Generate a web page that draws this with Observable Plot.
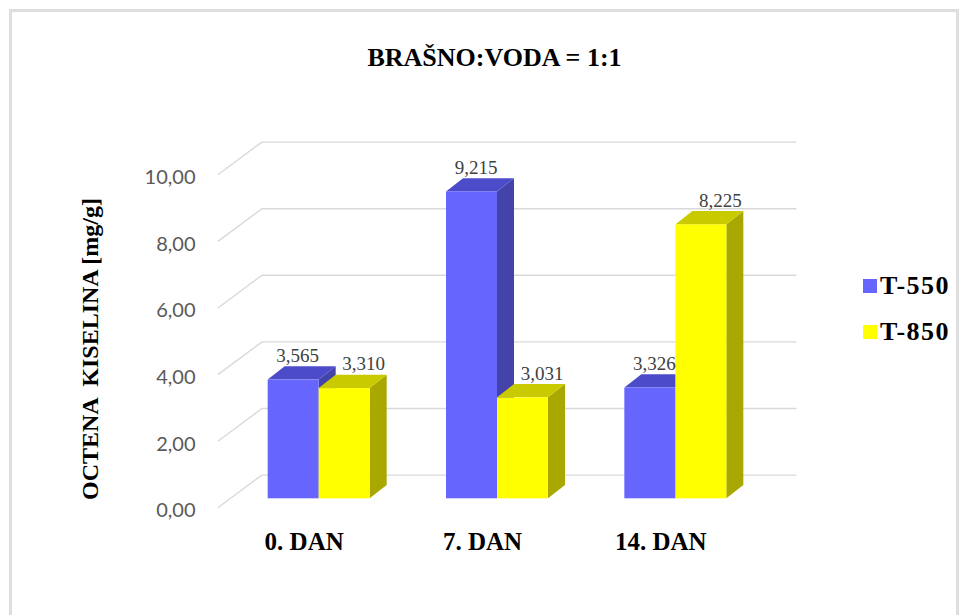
<!DOCTYPE html>
<html>
<head>
<meta charset="utf-8">
<script src="https://cdn.jsdelivr.net/npm/d3@7"></script>
<script src="https://cdn.jsdelivr.net/npm/@observablehq/plot@0.6"></script>
<style>
  body { margin: 0; background: #fff; }
  #wrap { position: relative; width: 962px; height: 615px; overflow: hidden; background: #fff; }
  #frame { position: absolute; left: 9px; top: 9px; width: 950px; height: 640px; border: 3px solid #dedede; box-sizing: border-box; }
  #chart { position: absolute; left: 0; top: 0; }
  .serifb { font-family: "Liberation Serif", "Times New Roman", serif; font-weight: bold; color: #000; white-space: pre; }
  #title { position: absolute; left: 0; width: 989px; top: 45px; text-align: center; font-size: 26px; line-height: 26px; }
  #ytitle { position: absolute; left: 90px; top: 349px; font-size: 24px; line-height: 24px; transform: translate(-50%, -50%) rotate(-90deg); }
  .leg { position: absolute; left: 863px; display: flex; align-items: center; }
  .leg .sw { width: 14px; height: 14px; margin-right: 3px; }
  .leg .tx { font-size: 26px; line-height: 26px; letter-spacing: 1.5px; }
</style>
</head>
<body>
<div id="wrap">
  <div id="frame"></div>
  <div id="chart"></div>
  <div id="title" class="serifb"></div>
  <div id="ytitle" class="serifb"></div>
  <div id="legend"></div>
</div>
<script>
// ---- data ----
const titleText = "BRAŠNO:VODA = 1:1";
const yTitle = "OCTENA  KISELINA [mg/g]";
const categories = ["0. DAN", "7. DAN", "14. DAN"];
const seriesNames = ["T-550", "T-850"];
const t550 = [3.565, 9.215, 3.326];
const t850 = [3.310, 3.031, 8.225];
const yTicks = [0, 2, 4, 6, 8, 10];
const yTickLabels = ["0,00", "2,00", "4,00", "6,00", "8,00", "10,00"];

// ---- style ----
const frontColor = {"T-550": "#6666FF", "T-850": "#FFFF00"};
const topColor   = {"T-550": "#4C4CCB", "T-850": "#CACA00"};
const sideColor  = {"T-550": "#4343AA", "T-850": "#A8A800"};
const labelDx    = {"T-550": 4, "T-850": 19};

const W = 962, H = 615;
const mL = 229.5, mR = 197.5, mT = 165.3, mB = 116.7;
const kx = 3 / (W - mL - mR);          // data units per px (x)
const ky = 10 / (H - mT - mB);         // data units per px (y)
const BX = 17, BY = 13.3;              // bar depth (px)
const WX = 31.9, WY = 23.7;            // back wall offset (px)
const FX = -12.1, FY = 9;              // front wall offset (px)
const barW = 51 * kx;

const seriesValues = [t550, t850];
const rows = [];
categories.forEach((c, i) => {
  seriesNames.forEach((s, j) => {
    const x1 = i + 0.5 + (j - 1) * barW;
    rows.push({id: c + s, cat: c, series: s, value: seriesValues[j][i], x1, x2: x1 + barW,
               label: seriesValues[j][i].toFixed(3).replace(".", ",")});
  });
});
const bx = BX * kx, by = BY * ky;
const sides = rows.flatMap(r => [
  {id: r.id, series: r.series, x: r.x2, y1: 0, y2: r.value},
  {id: r.id, series: r.series, x: r.x2 + bx, y1: by, y2: r.value + by}
]);
const tops = rows.flatMap(r => [
  {id: r.id, series: r.series, x: r.x1, y1: r.value, y2: r.value},
  {id: r.id, series: r.series, x: r.x1 + bx, y1: r.value, y2: r.value + by},
  {id: r.id, series: r.series, x: r.x2, y1: r.value, y2: r.value + by},
  {id: r.id, series: r.series, x: r.x2 + bx, y1: r.value + by, y2: r.value + by}
]);

const serif = "Liberation Serif, Times New Roman, serif";
const marks = [
  // back wall gridlines
  Plot.ruleY(yTicks, {y: d => d, x1: 0, x2: 3, dx: WX, dy: -WY, stroke: "#d9d9d9", strokeWidth: 1.4}),
  // side wall slants
  Plot.link(yTicks, {x1: FX * kx, y1: d => d - FY * ky, x2: WX * kx, y2: d => d + WY * ky, stroke: "#d9d9d9", strokeWidth: 1.4}),
];
for (const s of seriesNames) {
  marks.push(Plot.areaY(sides.filter(d => d.series === s), {x: "x", y1: "y1", y2: "y2", z: "id", fill: sideColor[s]}));
}
for (const s of seriesNames) {
  marks.push(Plot.areaY(tops.filter(d => d.series === s), {x: "x", y1: "y1", y2: "y2", z: "id", fill: topColor[s]}));
}
for (const s of seriesNames) {
  marks.push(Plot.rectY(rows.filter(d => d.series === s), {x1: "x1", x2: "x2", y1: 0, y2: "value", fill: frontColor[s]}));
}
for (const s of seriesNames) {
  marks.push(Plot.text(rows.filter(d => d.series === s), {
    x: d => (d.x1 + d.x2) / 2, y: "value", text: "label", dx: labelDx[s], dy: -(BY + 5),
    lineAnchor: "bottom", fontFamily: serif, fontSize: 19, fill: "#404040"
  }));
}
// y tick labels
marks.push(Plot.text(yTicks, {
  frameAnchor: "left", y: d => d, text: (d, i) => yTickLabels[i], textAnchor: "end",
  dx: -34.5, dy: 12, lineAnchor: "middle", fontFamily: "Lato, Carlito, sans-serif", fontSize: 20, fill: "#595959"
}));
// category labels
marks.push(Plot.text(categories, {
  x: (d, i) => i + 0.5, frameAnchor: "bottom", text: d => d, dx: -15, dy: 43, lineAnchor: "middle",
  fontFamily: serif, fontWeight: "bold", fontSize: 25, fill: "#000"
}));

const chart = Plot.plot({
  width: W, height: H,
  marginLeft: mL, marginRight: mR, marginTop: mT, marginBottom: mB,
  x: {domain: [0, 3], axis: null},
  y: {domain: [0, 10], axis: null},
  style: {background: "transparent", overflow: "visible"},
  marks
});
document.getElementById("chart").appendChild(chart);

document.getElementById("title").textContent = titleText;
document.getElementById("ytitle").textContent = yTitle;
const legTops = [273, 319];
const legend = document.getElementById("legend");
seriesNames.forEach((s, j) => {
  const item = document.createElement("div");
  item.className = "leg";
  item.style.top = legTops[j] + "px";
  item.innerHTML = `<div class="sw" style="background:${frontColor[s]}"></div><div class="tx serifb">${s}</div>`;
  legend.appendChild(item);
});
</script>
</body>
</html>
